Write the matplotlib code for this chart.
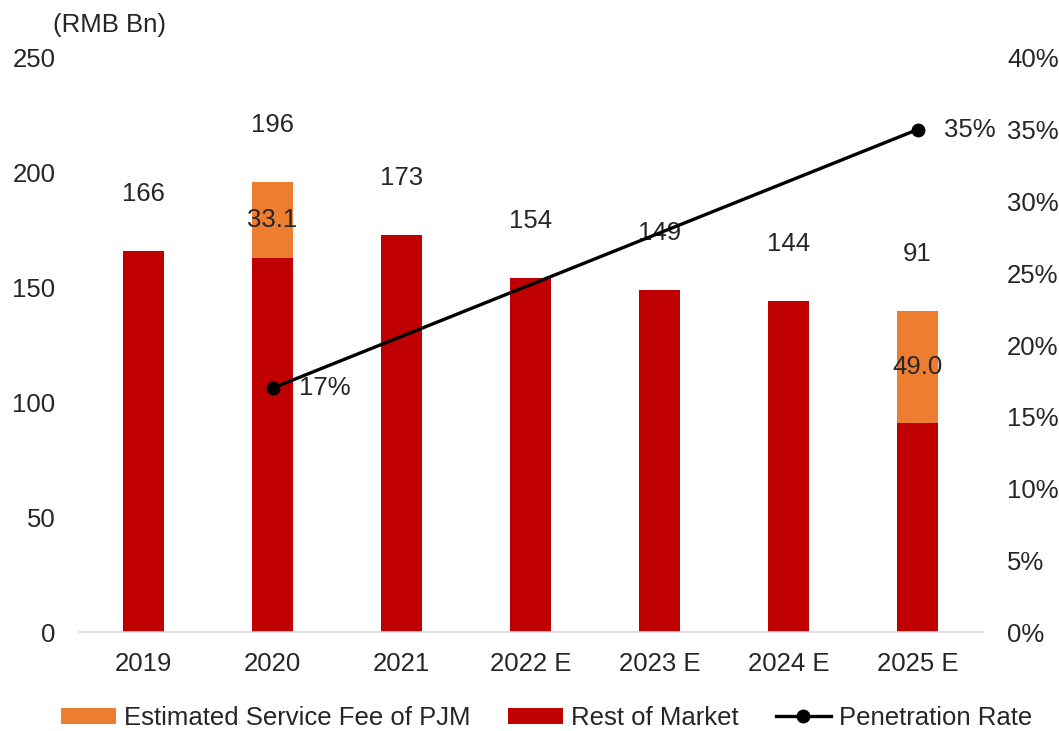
import numpy as np
import matplotlib.pyplot as plt

plt.rcParams['font.family'] = ['Liberation Sans', 'DejaVu Sans']
plt.rcParams['font.size'] = 18.5
plt.rcParams['text.color'] = '#262626'

years = ["2019", "2020", "2021", "2022 E", "2023 E", "2024 E", "2025 E"]
rest_of_market = [166, 162.9, 173, 154, 149, 144, 91]
pjm_fee = [0, 33.1, 0, 0, 0, 0, 49.0]
top_labels = ["166", "196", "173", "154", "149", "144", "91"]
pen_idx = [1, 6]
pen_rate = [0.17, 0.35]

red = '#C00000'
orange = '#ED7D31'
txt = '#262626'
fs = 18.5

x = np.arange(len(years))
rest = np.array(rest_of_market)
fee = np.array(pjm_fee)
total = rest + fee

fig = plt.figure(figsize=(10.59, 7.31), dpi=100)
ax = fig.add_axes([0.0746, 0.135, 0.8527, 0.786])

b1 = ax.bar(x, rest, width=0.32, color=red, label='Rest of Market')
b2 = ax.bar(x, fee, width=0.32, bottom=rest, color=orange,
            label='Estimated Service Fee of PJM')

for i in range(len(x)):
    ax.annotate(top_labels[i], (x[i], total[i]), xytext=(0, 41),
                textcoords='offset points', ha='center', va='center',
                fontsize=fs, color=txt)
    if fee[i] > 0:
        ax.text(x[i], rest[i] + fee[i] / 2, f"{fee[i]:.1f}", ha='center',
                va='center', fontsize=fs, color=txt)

ax.set_xlim(-0.5, 6.5)
ax.set_ylim(0, 250)
ax.set_yticks(np.arange(0, 251, 50))
ax.set_xticks(x)
ax.set_xticklabels(years)
for s in ['top', 'right', 'left']:
    ax.spines[s].set_visible(False)
ax.spines['bottom'].set_color('#D9D9D9')
ax.spines['bottom'].set_linewidth(1.2)
ax.tick_params(axis='both', length=0, colors=txt, labelsize=fs)
ax.tick_params(axis='y', pad=17)
ax.tick_params(axis='x', pad=14)

ax2 = ax.twinx()
ln, = ax2.plot(x[pen_idx], pen_rate, color='black', lw=2.4, marker='o',
               markersize=9, label='Penetration Rate')
for xi, v in zip(x[pen_idx], pen_rate):
    ax2.annotate(f"{v:.0%}", (xi, v), xytext=(19, 0), textcoords='offset points',
                 ha='left', va='center', fontsize=fs, color=txt)
ax2.set_ylim(0, 0.40)
ax2.set_yticks(np.arange(0, 0.401, 0.05))
ax2.set_yticklabels([f"{int(round(t * 100))}%" for t in np.arange(0, 0.401, 0.05)])
for s in ['top', 'right', 'left', 'bottom']:
    ax2.spines[s].set_visible(False)
ax2.tick_params(axis='y', length=0, colors=txt, labelsize=fs, pad=18)

fig.text(0.05, 0.966, "(RMB Bn)", ha='left', va='center', fontsize=fs, color=txt)

fig.legend([b2, b1, ln], ['Estimated Service Fee of PJM', 'Rest of Market', 'Penetration Rate'],
           loc='lower center', bbox_to_anchor=(0.516, -0.03), ncol=3, frameon=False,
           fontsize=fs, handlelength=2.15, handleheight=0.6, columnspacing=1.45,
           handletextpad=0.3)

fig.savefig('out.png', dpi=100)
